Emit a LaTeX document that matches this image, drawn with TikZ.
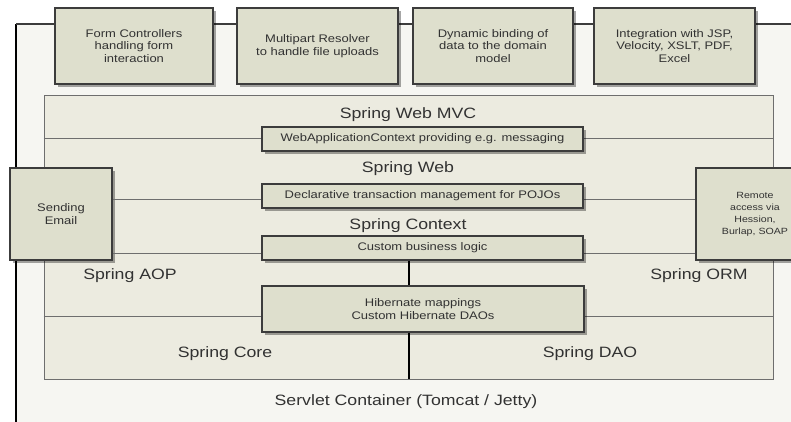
\documentclass[tikz,border=0pt]{standalone}
\usepackage{fontspec}
\setmainfont{Liberation Sans}[FakeStretch=1.18]
\usetikzlibrary{shadows}
\definecolor{outerbg}{RGB}{246,246,242}
\definecolor{panelbg}{RGB}{236,235,224}
\definecolor{boxbg}{RGB}{222,223,205}
\definecolor{boxline}{RGB}{60,60,60}
\definecolor{sepline}{RGB}{110,110,110}
\definecolor{textgray}{RGB}{50,50,50}
\begin{document}
\begin{tikzpicture}[x=1pt, y=-1pt,
	featbox/.style={draw=boxline, line width=1.2pt, fill=boxbg, inner sep=0pt, align=center,
		text=textgray, font=\fontsize{11}{12.5}\selectfont,
		drop shadow={shadow xshift=2.5pt, shadow yshift=-2.5pt, fill=black, opacity=0.35}},
	layer/.style={text=textgray, inner sep=1pt, font=\fontsize{15}{18}\selectfont},
	sep/.style={draw=sepline, line width=0.9pt}]
\useasboundingbox (0,0) rectangle (791,421);
\clip (0,0) rectangle (791,421);
\fill[white] (0,0) rectangle (791,421);
% servlet container
\fill[outerbg] (16,24) rectangle (830,440);
\draw[black, line width=1.6pt] (16,440) -- (16,24);
\draw[boxline, line width=1.2pt] (16,24) -- (830,24);
\node[layer] (servlet) at (406,402) {Servlet Container (Tomcat / Jetty)};
% spring panel
\node[draw=sepline, line width=0.9pt, fill=panelbg, minimum width=729pt, minimum height=284pt] (panel) at (408.5,237) {};
% features on top
\node[featbox, minimum width=158pt, minimum height=76pt] (forms) at (134,46) {Form Controllers\\handling form\\interaction};
\node[featbox, minimum width=161pt, minimum height=76pt] (multipart) at (317.5,46) {Multipart Resolver\\to handle file uploads};
\node[featbox, minimum width=160pt, minimum height=76pt] (binding) at (493,46) {Dynamic binding of\\data to the domain\\model};
\node[featbox, minimum width=161pt, minimum height=76pt] (views) at (674.5,46) {Integration with JSP,\\Velocity, XSLT, PDF,\\Excel};
% layers
\node[layer] (mvc) at (408,115) {Spring Web MVC};
\node[layer] (web) at (408,169) {Spring Web};
\node[layer] (context) at (408,226) {Spring Context};
\node[layer] (aop) at (130,276) {Spring AOP};
\node[layer] (orm) at (699,276) {Spring ORM};
\node[layer] (core) at (225,354) {Spring Core};
\node[layer] (dao) at (590,354) {Spring DAO};
% side boxes
\node[featbox, minimum width=102pt, minimum height=92pt] (mail) at (61,214) {Sending\\Email};
\node[featbox, minimum width=118pt, minimum height=92pt, font=\fontsize{9}{12}\selectfont] (remote) at (755,214) {Remote\\access via\\Hession,\\Burlap, SOAP};
% separators
\draw[sep] (panel.west |- 0,138) -- (262,138);
\draw[sep] (583,138) -- (panel.east |- 0,138);
\draw[sep] (mail.east |- 0,199) -- (262,199);
\draw[sep] (583,199) -- (remote.west |- 0,199);
\draw[sep] (mail.east |- 0,253) -- (262,253);
\draw[sep] (583,253) -- (remote.west |- 0,253);
\draw[sep] (panel.west |- 0,316) -- (262,316);
\draw[sep] (584,316) -- (panel.east |- 0,316);
\coordinate (split) at (409,379);
% boxes inside the layers
\node[featbox, minimum width=321pt, minimum height=24pt] (webctx) at (422.5,139) {WebApplicationContext providing e.g. messaging};
\node[featbox, minimum width=321pt, minimum height=24pt] (tx) at (422.5,196) {Declarative transaction management for POJOs};
\node[featbox, minimum width=321pt, minimum height=24pt] (logic) at (422.5,248) {Custom business logic};
\node[featbox, minimum width=322pt, minimum height=46pt] (hibernate) at (423,309) {Hibernate mappings\\Custom Hibernate DAOs};
\draw[black, line width=1.3pt] (logic.south -| split) -- (hibernate.north -| split);
\draw[black, line width=1.3pt] (hibernate.south -| split) -- (split);
\end{tikzpicture}
\end{document}
